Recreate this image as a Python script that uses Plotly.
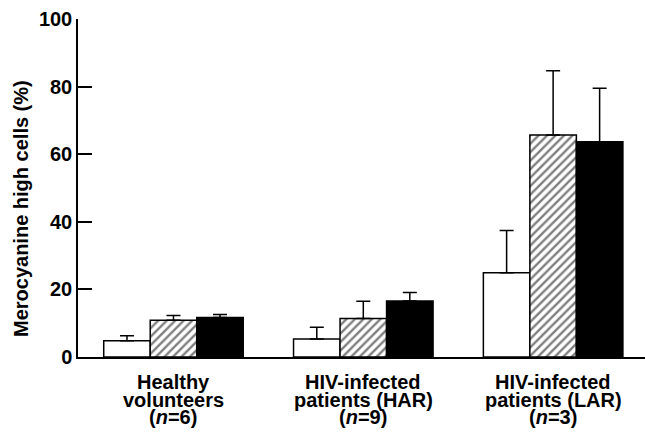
import plotly.graph_objects as go

category_lines = [["Healthy", "volunteers", "(<i>n</i>=6)"],
                  ["HIV-infected", "patients (HAR)", "(<i>n</i>=9)"],
                  ["HIV-infected", "patients (LAR)", "(<i>n</i>=3)"]]
positions = [0, 1, 2]
open_vals = [4.8, 5.3, 24.9]
open_err = [1.5, 3.5, 12.5]
hatched_vals = [10.9, 11.4, 65.7]
hatched_err = [1.4, 5.1, 19.0]
solid_vals = [11.7, 16.6, 63.7]
solid_err = [0.9, 2.5, 15.8]
y_ticks = [0, 20, 40, 60, 80, 100]
y_title = "Merocyanine high cells (%)"

font = "Liberation Sans, Arial, Helvetica, sans-serif"

def err(arr):
    return dict(type="data", array=arr, symmetric=False, arrayminus=[0]*len(arr),
                color="black", thickness=1.5, width=7)

fig = go.Figure()
fig.add_trace(go.Bar(x=positions, y=open_vals, error_y=err(open_err),
                     marker=dict(color="white", line=dict(color="black", width=1.5))))
fig.add_trace(go.Bar(x=positions, y=hatched_vals, error_y=err(hatched_err),
                     marker=dict(color="white", line=dict(color="black", width=1.5),
                                 pattern=dict(shape="/", fgcolor="black", bgcolor="white",
                                              size=6, solidity=0.4))))
fig.add_trace(go.Bar(x=positions, y=solid_vals, error_y=err(solid_err),
                     marker=dict(color="black", line=dict(color="black", width=1.5))))

plot_bottom = 357
line_centers = [382, 400, 417]
for pos, lines in zip(positions, category_lines):
    for text, c in zip(lines, line_centers):
        fig.add_annotation(x=pos, xref="x", y=0, yref="paper", text=text,
                           showarrow=False, xanchor="center", yanchor="middle",
                           yshift=-(c - plot_bottom),
                           font=dict(family=font, size=20, color="black", weight="bold"))

fig.add_annotation(x=0, xref="paper", y=0.5, yref="paper", text=y_title, textangle=-90,
                   showarrow=False, xanchor="center", yanchor="middle",
                   xshift=21 - 78, yshift=-21,
                   font=dict(family=font, size=20, color="black", weight="bold"))

fig.update_layout(
    width=645, height=432,
    margin=dict(l=78, r=0, t=19, b=432 - plot_bottom),
    paper_bgcolor="white", plot_bgcolor="white",
    barmode="group", bargap=0.265, bargroupgap=0,
    showlegend=False,
    font=dict(family=font, size=20, color="black"),
)
fig.update_xaxes(range=[-0.503, 2.484], tickvals=positions, showticklabels=False,
                 showline=True, linecolor="black", linewidth=1.5,
                 showgrid=False, zeroline=False, ticks="")
fig.update_yaxes(range=[0, 100], tickvals=y_ticks, showline=True,
                 linecolor="black", linewidth=1.5, ticks="inside", ticklen=14,
                 tickwidth=1.5, tickcolor="black", showgrid=False, zeroline=False,
                 ticklabelstandoff=0,
                 tickfont=dict(family=font, size=20, color="black", weight="bold"))

fig.write_html("out.html", config={"displayModeBar": False},
               post_script="document.body.style.margin='0';document.body.style.padding='0';")
